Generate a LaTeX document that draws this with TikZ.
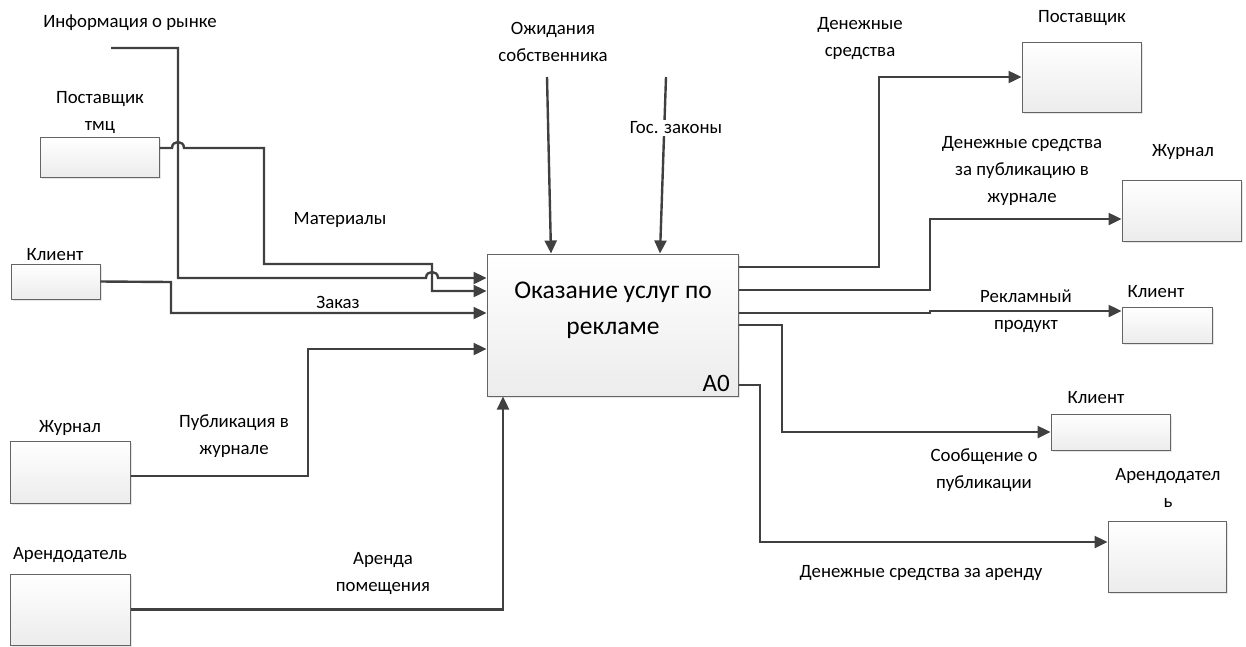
\documentclass[tikz,border=0pt]{standalone}
\usepackage{fontspec}
\setmainfont{Carlito}
\usetikzlibrary{arrows.meta,shadows}
\definecolor{lineg}{RGB}{64,64,64}
\definecolor{boxg}{RGB}{100,100,100}
\definecolor{fillg}{RGB}{236,236,236}

\begin{document}
\begin{tikzpicture}[x=1pt,y=-1pt,
    box/.style={draw=boxg, line width=1pt, top color=white, bottom color=fillg,
      drop shadow={opacity=0.2, shadow xshift=1.5pt, shadow yshift=-1.5pt}, inner sep=0pt},
    flow/.style={draw=lineg, line width=2.4pt, -{Triangle[length=13pt,width=12pt]}},
    lbl/.style={font=\fontsize{18.8}{27}\selectfont, align=center, inner sep=0pt}]
    \useasboundingbox (0,0) rectangle (1246,646);

    %% main function block
    \node[box, minimum width=251pt, minimum height=142pt] (main) at (612.5,325) {};
    \node[font=\fontsize{25.5}{36}\selectfont, align=center] (maintxt) at (613,310)
      {Оказание услуг по\\рекламе};
    \node[font=\fontsize{25}{36}\selectfont, anchor=base east, inner sep=0pt] (a0) at (730,391) {A0};

    %% left side boxes
    \node[box, minimum width=119pt, minimum height=40pt] (tmc) at (99.5,157) {};
    \node[box, minimum width=89pt, minimum height=35pt] (klientL) at (55.5,281.5) {};
    \node[box, minimum width=120pt, minimum height=62pt] (zhurnalL) at (70,472) {};
    \node[box, minimum width=120pt, minimum height=71pt] (arendL) at (70,609.5) {};

    %% right side boxes
    \node[box, minimum width=119pt, minimum height=70pt] (postR) at (1081.5,77) {};
    \node[box, minimum width=119pt, minimum height=61pt] (zhurnalR) at (1181.5,210.5) {};
    \node[box, minimum width=90pt, minimum height=36pt] (klientRa) at (1167,325) {};
    \node[box, minimum width=119pt, minimum height=36pt] (klientRb) at (1110.5,432) {};
    \node[box, minimum width=118pt, minimum height=71pt] (arendR) at (1167,556.5) {};

    %% box captions
    \node[lbl] (tmcL) at (100,113) {Поставщик\\тмц};
    \node[lbl] (klientLL) at (55,255) {Клиент};
    \node[lbl] (zhurnalLL) at (70,428) {Журнал};
    \node[lbl] (arendLL) at (70,555) {Арендодатель};
    \node[lbl] (postRL) at (1082,18) {Поставщик};
    \node[lbl] (zhurnalRL) at (1183,152) {Журнал};
    \node[lbl] (klientRaL) at (1156,292) {Клиент};
    \node[lbl] (klientRbL) at (1096,398) {Клиент};
    \node[lbl] (arendRL) at (1168,488) {Арендодател\\ь};

    %% free line ends
    \coordinate (infoS) at (111,48);
    \coordinate (ozhS) at (547,77);
    \coordinate (gosS) at (666,77);

    %% inputs
    \draw[flow] (infoS) -- (178,48) -- (178,278) -- (426,278)
      .. controls (426,270) and (438,270) .. (438,278) -- (main.west |- 0,278);
    \draw[flow] (tmc.east |- 0,148) -- (172,148)
      .. controls (172,140) and (184,140) .. (184,148) -- (264,148) -- (264,264)
      -- (432,264) -- (432,291) -- (main.west |- 0,291);
    \draw[flow] (klientL.east) -- (171,282) -- (171,313) -- (main.west |- 0,313);
    \draw[flow] (zhurnalL.east |- 0,476) -- (308,476) -- (308,349) -- (main.west |- 0,349);
    \draw[flow] (arendL.east) -- (503,609.5) -- (503,0 |- main.south);

    %% controls
    \draw[flow] (ozhS) -- (551,0 |- main.north);
    \draw[flow] (gosS) -- (660,0 |- main.north);

    %% outputs
    \draw[flow] (main.east |- 0,267) -- (879,267) -- (879,77) -- (postR.west);
    \draw[flow] (main.east |- 0,290) -- (930,290) -- (930,219) -- (zhurnalR.west |- 0,219);
    \draw[flow] (main.east |- 0,313) -- (930,313) -- (930,311) -- (klientRa.west |- 0,311);
    \draw[flow] (main.east |- 0,325) -- (782,325) -- (782,432) -- (klientRb.west);
    \draw[flow] (main.east |- 0,385) -- (760,385) -- (760,542) -- (arendR.west |- 0,542);

    %% flow labels
    \node[lbl] (infoL) at (130,23) {Информация о рынке};
    \node[lbl] (matL) at (340,220) {Материалы};
    \node[lbl] (zakazL) at (338,302) {Заказ};
    \node[lbl] (publL) at (234,436) {Публикация в\\журнале};
    \node[lbl] (arendaL) at (383,573) {Аренда\\помещения};
    \node[lbl] (ozhL) at (553,42) {Ожидания\\собственника};
    \node[lbl, fill=white, inner sep=2pt] (gosL) at (676,128) {Гос. законы};
    \node[lbl] (denL) at (860,39) {Денежные\\средства};
    \node[lbl] (denZhL) at (1022,171) {Денежные средства\\за публикацию в\\журнале};
    \node[lbl] (reklL) at (1026,311) {Рекламный\\продукт};
    \node[lbl] (soobL) at (984,470) {Сообщение о\\публикации};
    \node[lbl] (denArL) at (921,573) {Денежные средства за аренду};
  \end{tikzpicture}
\end{document}
